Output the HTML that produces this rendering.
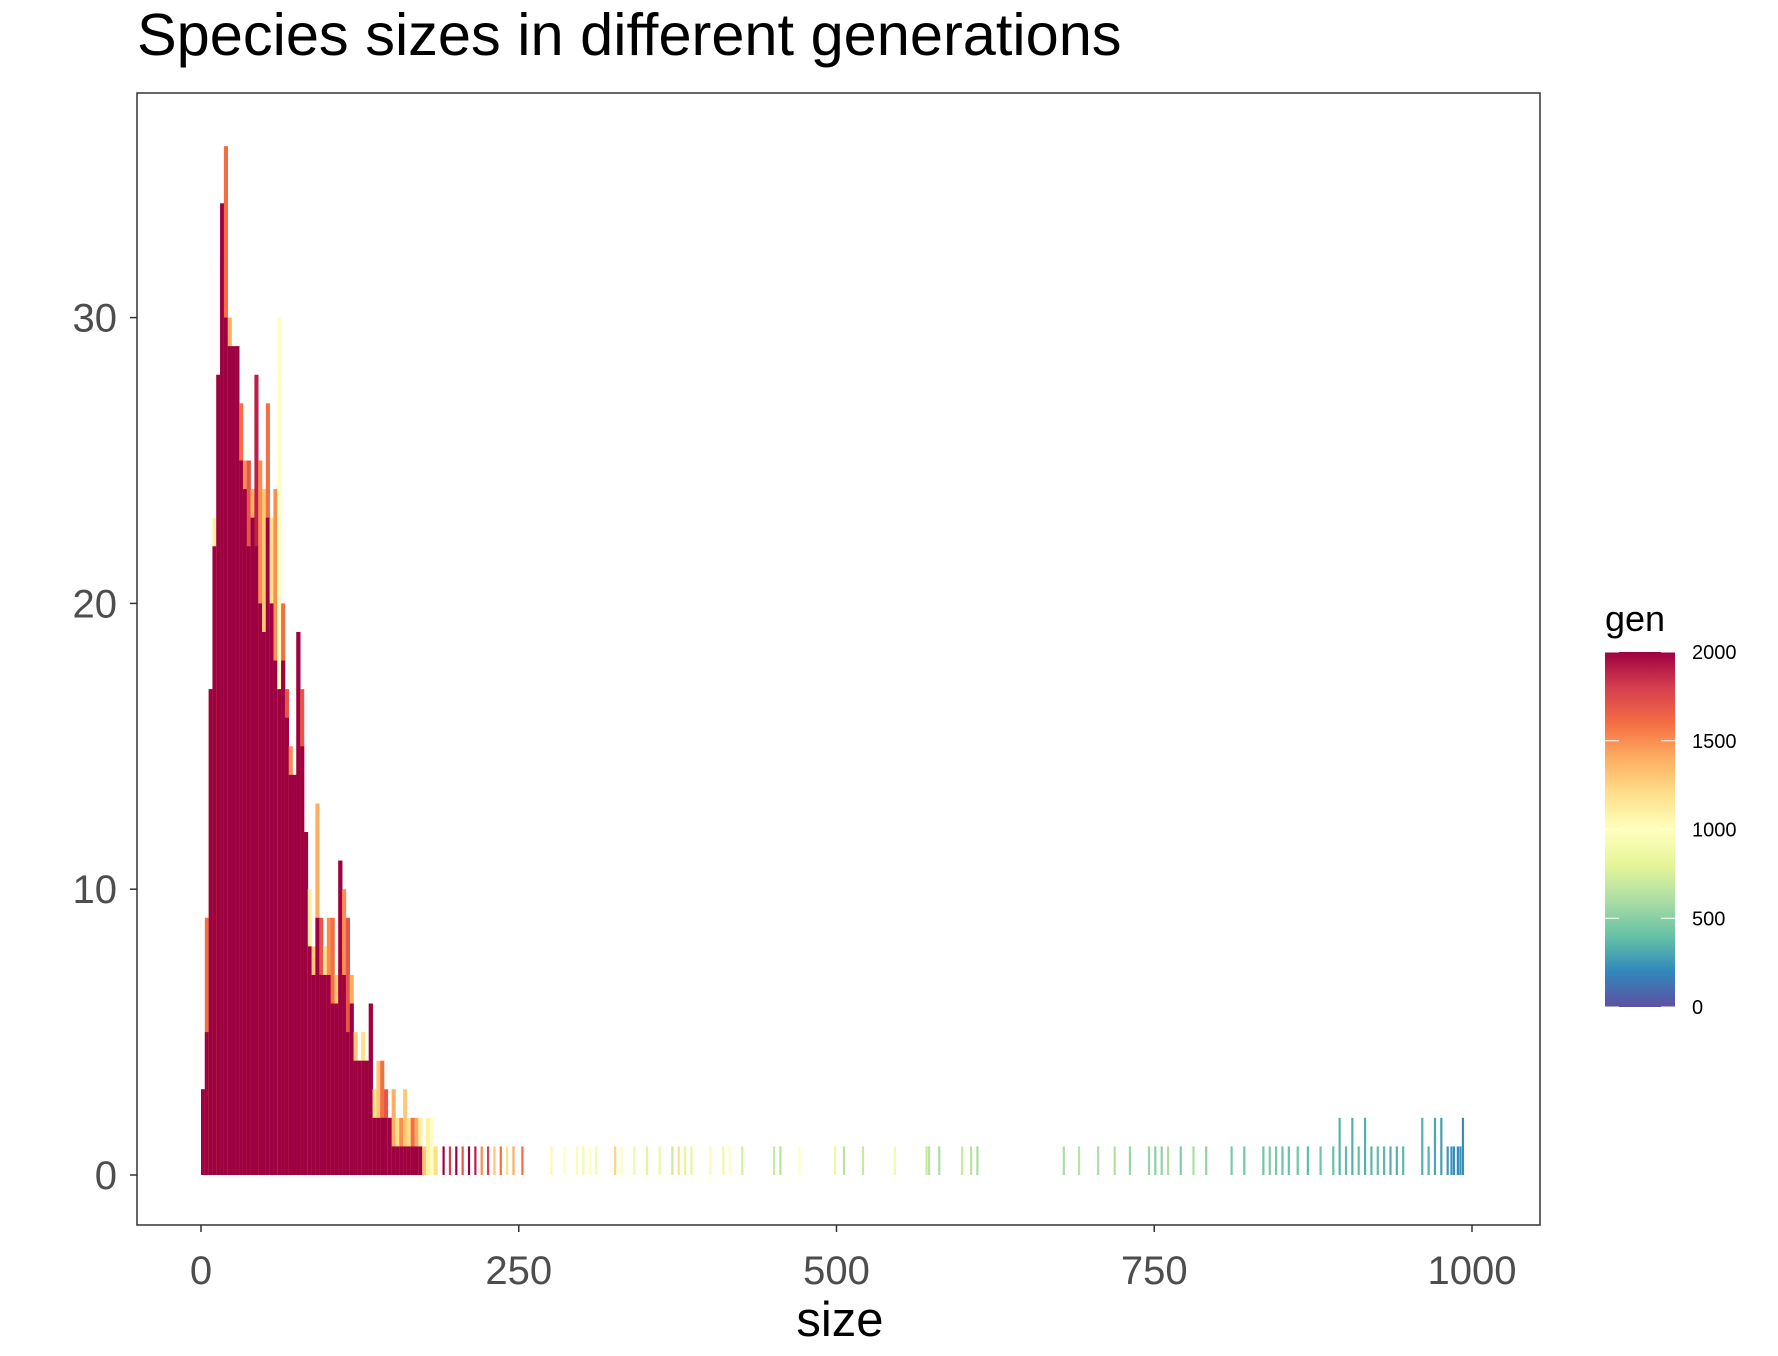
<!DOCTYPE html>
<html><head><meta charset="utf-8"><style>
body{margin:0;background:#fff;}
svg{display:block;font-family:"Liberation Sans",sans-serif;}
</style></head><body>
<svg id="chart" width="1778" height="1356">
<defs>
<linearGradient id="spec" x1="0" y1="1" x2="0" y2="0">
<stop offset="0" stop-color="#5E4FA2"/><stop offset="0.1" stop-color="#3288BD"/><stop offset="0.2" stop-color="#66C2A5"/><stop offset="0.3" stop-color="#ABDDA4"/><stop offset="0.4" stop-color="#E6F598"/><stop offset="0.5" stop-color="#FFFFBF"/><stop offset="0.6" stop-color="#FEE08B"/><stop offset="0.7" stop-color="#FDAE61"/><stop offset="0.8" stop-color="#F46D43"/><stop offset="0.9" stop-color="#D53E4F"/><stop offset="1" stop-color="#9E0142"/>
</linearGradient>
</defs>
<text x="137" y="55" font-size="59.5" fill="#000">Species sizes in different generations</text>
<rect x="137" y="93" width="1403" height="1132" fill="none" stroke="#333" stroke-width="1.5"/>
<g id="bars"></g>
<g id="axes"></g>
<g>
<text x="1605" y="631" font-size="36" fill="#000">gen</text>
<rect x="1605" y="652" width="70" height="355" fill="url(#spec)"/>
<g id="legticks"></g>
</g>
</svg>
<script>
const binStarts=[0,3,6,9,12,15,18,21,24,27,30,33,36,39,42,45,48,51,54,57,60,63,66,69,72,75,78,81,84,87,90,93,96,99,102,105,108,111,114,117,120,123,126,129,132,135,138,141,144,147,150,153,156,159,162,165,168,171,174,177,180,183];
const binTotals=[3,9,17,23,28,32,36,30,29,29,27,25,25,24,28,25,24,27,23,24,30,20,17,15,14,19,17,12,10,8,13,9,8,9,9,7,11,10,9,7,5,4,5,4,6,3,4,4,3,2,3,2,2,3,2,2,2,2,1,2,2,1];
const binDark=[3,5,17,22,28,34,30,29,29,29,25,24,22,23,22,20,19,23,20,18,17,18,16,14,14,19,15,12,8,7,9,7,7,7,6,6,11,7,5,6,4,4,4,4,6,2,2,2,2,2,1,1,1,1,1,1,1,1,0,0,0,0];
const binTopGen=[1700,1600,1300,1100,1400,1500,1600,1400,1300,1800,1600,1500,1700,1400,1900,1500,1300,1600,1200,1500,1000,1600,1700,1500,1400,1900,1700,1600,1100,1300,1400,1700,1200,1500,1600,1300,1800,1500,1700,1400,1300,1600,1200,1500,1800,1200,1300,1600,1700,1100,1400,1200,1500,1300,1200,1600,1400,1100,1300,1100,1000,1200];
const tailSizes=[190,195,200,205,210,215,220,225,230,235,240,245,252,275,285,295,300,305,310,325,330,340,350,360,370,375,380,385,400,410,415,425,450,455,470,498,505,520,545,570,572,580,598,605,610,678,690,705,718,730,745,750,755,760,770,780,790,810,820,835,840,845,850,855,862,870,880,890,895,900,905,910,915,920,925,930,935,940,945,960,965,970,975,980,983,985,988,990,992];
const tailCounts=[1,1,1,1,1,1,1,1,1,1,1,1,1,1,1,1,1,1,1,1,1,1,1,1,1,1,1,1,1,1,1,1,1,1,1,1,1,1,1,1,1,1,1,1,1,1,1,1,1,1,1,1,1,1,1,1,1,1,1,1,1,1,1,1,1,1,1,1,2,1,2,1,2,1,1,1,1,1,1,2,1,2,2,1,1,1,1,1,2];
const tailGens=[2000,1800,2000,1700,2000,1900,1500,1800,1300,1600,1200,1400,1600,1050,1000,950,900,1000,920,1250,980,900,800,850,700,1200,800,820,950,900,1000,750,700,650,1000,850,650,700,900,700,650,600,700,650,600,600,650,600,620,550,550,500,520,600,480,600,520,460,440,420,460,450,420,400,430,380,420,400,350,380,340,400,330,360,380,350,330,340,360,330,350,300,280,250,230,220,200,250,220];
const tickVals=[0,250,500,750,1000];
const yTickVals=[0,10,20,30];
const legVals=[0,500,1000,1500,2000];
const NS='http://www.w3.org/2000/svg';
const xs=v=>201+v*1.271, ys=v=>1175-v*28.58;
const ly=v=>1007-v/2000*355;
const stops=[[0,'#5E4FA2'],[200,'#3288BD'],[400,'#66C2A5'],[600,'#ABDDA4'],[800,'#E6F598'],[1000,'#FFFFBF'],[1200,'#FEE08B'],[1400,'#FDAE61'],[1600,'#F46D43'],[1800,'#D53E4F'],[2000,'#9E0142']];
function hx(h){return [1,3,5].map(i=>parseInt(h.substr(i,2),16));}
function col(g){for(let i=0;i<stops.length-1;i++){const[a,ca]=stops[i],[b,cb]=stops[i+1];if(g<=b){const t=(g-a)/(b-a),A=hx(ca),B=hx(cb);return 'rgb('+A.map((v,k)=>Math.round(v+(B[k]-v)*t)).join(',')+')';}}return '#9E0142';}
function mk(t,a,p){const e=document.createElementNS(NS,t);for(const k in a)e.setAttribute(k,a[k]);p.appendChild(e);return e;}
const bars=document.getElementById('bars'),axes=document.getElementById('axes'),lt=document.getElementById('legticks');
binStarts.forEach((s,i)=>{
  const w=xs(s+3)-xs(s);
  const top=mk('rect',{x:xs(s),y:ys(binTotals[i]),width:w+0.3,height:ys(0)-ys(binTotals[i]),fill:col(binTopGen[i])},bars);
  
  
  const d=mk('rect',{x:xs(s),y:ys(binDark[i]),width:w+0.3,height:ys(0)-ys(binDark[i]),fill:'#9E0142'},bars);
  
  
});
tailSizes.forEach((s,i)=>{
  const r=mk('rect',{x:xs(s),y:ys(tailCounts[i]),width:2.2,height:ys(0)-ys(tailCounts[i]),fill:col(tailGens[i])},bars);
  
  
});
tickVals.forEach(v=>{
  mk('line',{x1:xs(v),x2:xs(v),y1:1225,y2:1232,stroke:'#333','stroke-width':1.5},axes);
  const t=mk('text',{x:xs(v),y:1284,'font-size':40,fill:'#4d4d4d','text-anchor':'middle'},axes);t.textContent=v;
  
  
});
yTickVals.forEach(v=>{
  mk('line',{x1:130,x2:137,y1:ys(v),y2:ys(v),stroke:'#333','stroke-width':1.5},axes);
  const t=mk('text',{x:117,y:ys(v)+14,'font-size':40,fill:'#4d4d4d','text-anchor':'end'},axes);t.textContent=v;
  
  
});
const xt=mk('text',{x:840,y:1336,'font-size':49,fill:'#000','text-anchor':'middle'},axes);xt.textContent='size';


legVals.forEach(v=>{
  mk('line',{x1:1605,x2:1619,y1:ly(v),y2:ly(v),stroke:'#fff','stroke-width':1},lt);
  mk('line',{x1:1661,x2:1675,y1:ly(v),y2:ly(v),stroke:'#fff','stroke-width':1},lt);
  const t=mk('text',{x:1692,y:ly(v)+7,'font-size':20,fill:'#000'},lt);t.textContent=v;
  
  
});
</script>
</body></html>
